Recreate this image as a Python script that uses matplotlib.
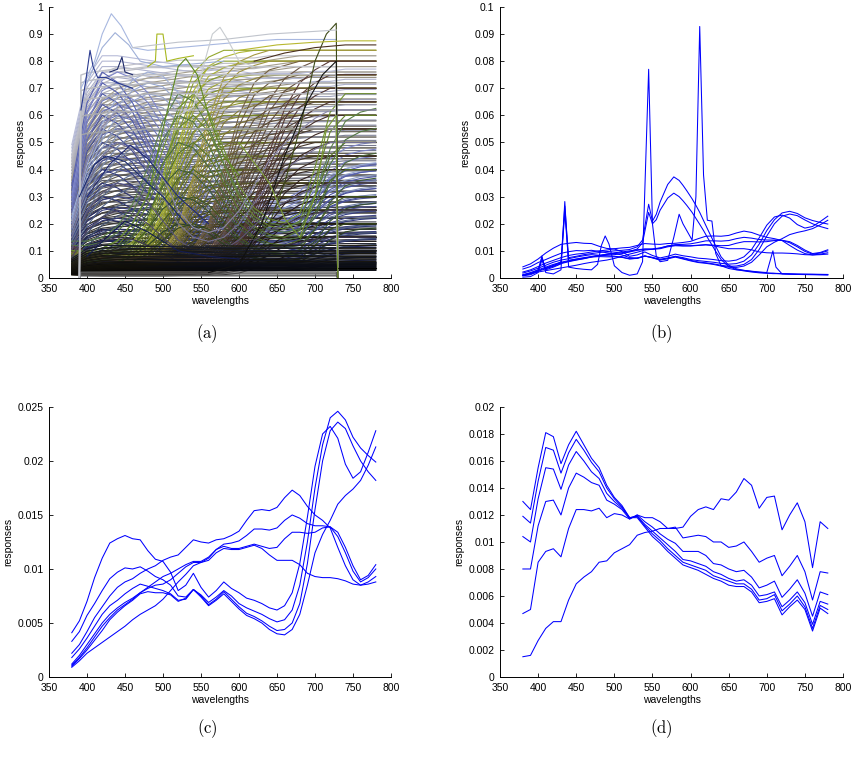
import numpy as np
import matplotlib
matplotlib.use('Agg')
import matplotlib.pyplot as plt
from matplotlib.colors import to_rgb

plt.rcParams['font.family'] = ['Liberation Sans', 'DejaVu Sans']
plt.rcParams['mathtext.fontset'] = 'cm'

# ---------------- (a) spectral reflectances of a large set of samples ----------------
wa = [380, 400, 420, 440, 460, 480, 500, 520, 540, 560, 580, 600, 620, 640, 660, 680, 700, 720, 740, 760, 780]
# measured range 390-730 for the second set (zero outside)
wb = [390, 392, 400, 420, 440, 460, 480, 500, 520, 540, 560, 580, 600, 620, 640, 660, 680, 700, 720, 728, 730]

neutral_shapes = [
    [0.55, 0.82, 0.92, 0.95, 0.96, 0.97, 0.97, 0.98, 0.98, 0.98, 0.99, 0.99, 0.99, 1.0, 1.0, 1.0, 1.0, 1.0, 1.0, 1.0, 1.0],
    [0.45, 0.70, 0.80, 0.85, 0.88, 0.90, 0.91, 0.92, 0.93, 0.94, 0.95, 0.96, 0.97, 0.98, 0.99, 1.0, 1.0, 1.0, 1.0, 1.0, 1.0],
    [0.60, 0.90, 1.0, 1.0, 0.99, 0.98, 0.97, 0.96, 0.95, 0.94, 0.93, 0.93, 0.92, 0.92, 0.92, 0.92, 0.93, 0.93, 0.94, 0.94, 0.94],
]
# dark samples (drawn last, they fill the bottom band)
dark_levels = [0.03, 0.035, 0.04, 0.045, 0.05, 0.055, 0.06, 0.07, 0.08, 0.09, 0.10, 0.11, 0.12]
neutral_levels = [0.135, 0.15, 0.165, 0.18, 0.20, 0.22, 0.24, 0.26, 0.28, 0.30, 0.32, 0.34, 0.36, 0.38, 0.40, 0.42,
                  0.44, 0.46, 0.48, 0.50, 0.52, 0.54, 0.56, 0.58, 0.60, 0.62, 0.64, 0.66, 0.68, 0.70, 0.72, 0.74,
                  0.76, 0.78, 0.80, 0.82]
neutral_ends = [('#050505', '#c0c0c8'), ('#0a0806', '#a8a290'), ('#06080e', '#b8bcd8')]
dark_ends = [('#000000', '#1a1a18'), ('#050402', '#222014'), ('#020308', '#181c2c')]

blue_shapes = [
    [0.40, 0.80, 0.96, 1.0, 0.97, 0.90, 0.78, 0.64, 0.52, 0.44, 0.40, 0.38, 0.37, 0.37, 0.38, 0.42, 0.50, 0.58, 0.63, 0.65, 0.66],
    [0.45, 0.85, 1.0, 0.95, 0.85, 0.70, 0.55, 0.42, 0.34, 0.30, 0.28, 0.27, 0.27, 0.27, 0.28, 0.32, 0.40, 0.48, 0.52, 0.54, 0.55],
    [0.30, 0.55, 0.75, 0.88, 0.96, 1.0, 0.98, 0.90, 0.78, 0.64, 0.52, 0.45, 0.41, 0.39, 0.38, 0.40, 0.45, 0.50, 0.53, 0.55, 0.56],
]
blue_levels = [0.10, 0.14, 0.18, 0.22, 0.26, 0.30, 0.35, 0.40, 0.45, 0.50, 0.55, 0.60, 0.64, 0.68, 0.72, 0.76]
blue_ends = [('#0e1250', '#8088cc'), ('#0a0e40', '#5862b4'), ('#10203c', '#a0b0d8')]

yellow_shapes = [
    [0.10, 0.08, 0.08, 0.09, 0.11, 0.16, 0.30, 0.58, 0.82, 0.93, 0.97, 0.99, 1.0, 1.0, 1.0, 1.0, 1.0, 1.0, 1.0, 1.0, 1.0],
    [0.12, 0.10, 0.10, 0.12, 0.16, 0.25, 0.45, 0.72, 0.90, 0.97, 1.0, 1.0, 1.0, 1.0, 1.0, 1.0, 1.0, 1.0, 1.0, 1.0, 1.0],
    [0.08, 0.07, 0.07, 0.07, 0.08, 0.09, 0.12, 0.22, 0.45, 0.70, 0.88, 0.95, 0.98, 1.0, 1.0, 1.0, 1.0, 1.0, 1.0, 1.0, 1.0],
]
yellow_levels = [0.15, 0.20, 0.25, 0.30, 0.35, 0.40, 0.45, 0.50, 0.55, 0.60, 0.65, 0.70, 0.75, 0.80, 0.84]
yellow_ends = [('#1a1c04', '#b0b83a'), ('#18200a', '#94a82e'), ('#1c1808', '#a49844')]

red_shapes = [
    [0.12, 0.09, 0.08, 0.08, 0.08, 0.08, 0.08, 0.09, 0.10, 0.13, 0.22, 0.42, 0.65, 0.82, 0.92, 0.97, 1.0, 1.0, 1.0, 1.0, 1.0],
    [0.12, 0.10, 0.09, 0.09, 0.09, 0.09, 0.09, 0.10, 0.14, 0.25, 0.50, 0.75, 0.90, 0.96, 0.98, 1.0, 1.0, 1.0, 1.0, 1.0, 1.0],
    [0.15, 0.12, 0.10, 0.10, 0.10, 0.10, 0.10, 0.10, 0.10, 0.10, 0.12, 0.18, 0.35, 0.58, 0.78, 0.90, 0.96, 1.0, 1.0, 1.0, 1.0],
]
red_levels = [0.10, 0.15, 0.20, 0.25, 0.30, 0.35, 0.40, 0.45, 0.50, 0.55, 0.60, 0.65, 0.70, 0.75, 0.80]
red_ends = [('#060403', '#6a5444'), ('#0a0805', '#746040'), ('#080404', '#5a3c38')]

green_shapes = [
    [0.15, 0.14, 0.16, 0.20, 0.30, 0.45, 0.70, 0.92, 1.0, 0.90, 0.70, 0.50, 0.38, 0.32, 0.30, 0.35, 0.60, 0.90, 1.0, 1.0, 1.0],
    [0.20, 0.20, 0.22, 0.28, 0.40, 0.60, 0.85, 1.0, 0.96, 0.82, 0.62, 0.46, 0.36, 0.30, 0.28, 0.30, 0.45, 0.70, 0.85, 0.90, 0.92],
]
green_levels = [0.20, 0.30, 0.40, 0.50, 0.60, 0.68]
green_ends = [('#1c2c10', '#6e9030'), ('#182818', '#5a8048')]

purple_shape = [0.30, 0.70, 0.90, 1.0, 0.95, 0.80, 0.60, 0.40, 0.30, 0.27, 0.30, 0.40, 0.55, 0.70, 0.80, 0.88, 0.95, 1.0, 1.0, 1.0, 1.0]
purple_levels = [0.15, 0.25, 0.35, 0.50, 0.62]

cut_shape = [0.0, 0.96, 0.97, 0.98, 0.99, 0.99, 1.0, 1.0, 1.0, 1.0, 1.0, 1.0, 1.0, 1.0, 1.0, 1.0, 1.0, 1.0, 1.0, 1.0, 0.0]
cut_levels = [0.008, 0.015, 0.022, 0.55, 0.62, 0.68, 0.72, 0.75, 0.78]

# individual samples that stand out
hl_x = [
    [392, 410, 420, 432, 445, 460, 480, 520, 560, 600, 650, 700, 728],
    [400, 420, 437, 455, 470, 500, 540, 580],
    [392, 398, 404, 408, 414, 425, 440, 460],
    [430, 440, 446, 450, 460],
    [480, 490, 492, 500, 505, 520, 540],
    [520, 540, 555, 565, 575, 585, 600, 620],
    [620, 640, 660, 680, 700, 715, 728, 730],
    [560, 600, 630, 660, 690, 710, 728, 730],
    [600, 650, 700, 740, 780],
    [460, 520, 580, 640, 700, 728],
    [480, 500, 520, 530, 545, 560, 580, 600],
    [620, 660, 700, 740, 780],
    [730, 780],
    [600, 640, 660, 680, 700, 715, 728, 730],
    [390, 410, 425, 450, 480, 500, 530],
    [400, 430, 457, 480, 520, 560],
    [400, 430, 450, 480, 520, 560, 600],
]
hl_y = [
    [0.70, 0.80, 0.90, 0.975, 0.93, 0.85, 0.84, 0.85, 0.86, 0.87, 0.88, 0.88, 0.88],
    [0.72, 0.85, 0.905, 0.86, 0.80, 0.78, 0.79, 0.80],
    [0.62, 0.72, 0.84, 0.78, 0.74, 0.74, 0.72, 0.70],
    [0.76, 0.77, 0.815, 0.76, 0.75],
    [0.78, 0.80, 0.90, 0.90, 0.80, 0.81, 0.82],
    [0.60, 0.63, 0.80, 0.90, 0.925, 0.88, 0.80, 0.78],
    [0.15, 0.20, 0.35, 0.55, 0.80, 0.90, 0.94, 0.0],
    [0.02, 0.05, 0.20, 0.45, 0.65, 0.75, 0.80, 0.0],
    [0.84, 0.86, 0.87, 0.875, 0.875],
    [0.85, 0.87, 0.88, 0.90, 0.91, 0.915],
    [0.30, 0.55, 0.78, 0.81, 0.75, 0.60, 0.45, 0.38],
    [0.80, 0.83, 0.85, 0.86, 0.86],
    [0.035, 0.035],
    [0.50, 0.35, 0.22, 0.15, 0.30, 0.55, 0.60, 0.0],
    [0.30, 0.42, 0.45, 0.43, 0.35, 0.30, 0.20],
    [0.30, 0.42, 0.49, 0.44, 0.30, 0.20],
    [0.08, 0.16, 0.21, 0.17, 0.10, 0.08, 0.07],
]
hl_colors = ['#a8b8e0', '#9fb0d8', '#2a3a90', '#1e2a6a', '#a8b820', '#c8ccd0', '#3d4a18', '#101010',
             '#b8b830', '#c0c4cc', '#5e8a20', '#4a3020', '#000000', '#7a9a30', '#1a2a70', '#202a78', '#141c50']

# ---------------- (b)/(c)/(d) ----------------
wl = np.arange(380, 781, 10)

# reflectance-weighted responses, shown in (c) and again in (b)
c_curves = [
    [.0041, .0052, .0070, .0092, .0110, .0124, .0128, .0131, .0128, .0127, .0117, .0109, .0107, .0097, .0080, .0085,
     .0096, .0083, .0074, .0080, .0088, .0082, .0078, .0073, .0071, .0068, .0064, .0062, .0066, .0078, .0105, .0148,
     .0195, .0225, .0232, .0221, .0197, .0184, .0190, .0208, .0228],
    [.0033, .0042, .0057, .0068, .0080, .0091, .0097, .0101, .0100, .0102, .0098, .0093, .0090, .0085, .0075, .0074,
     .0081, .0076, .0069, .0074, .0080, .0075, .0068, .0064, .0061, .0058, .0054, .0051, .0053, .0062, .0085, .0125,
     .0175, .0215, .0240, .0246, .0238, .0222, .0212, .0205, .0199],
    [.0018, .0026, .0036, .0047, .0058, .0066, .0071, .0077, .0082, .0086, .0084, .0082, .0080, .0077, .0071, .0072,
     .0081, .0075, .0067, .0072, .0079, .0072, .0065, .0059, .0056, .0052, .0047, .0043, .0044, .0050, .0068, .0105,
     .0155, .0200, .0228, .0236, .0230, .0214, .0200, .0190, .0182],
    [.0010, .0017, .0025, .0034, .0043, .0053, .0060, .0066, .0071, .0077, .0079, .0078, .0078, .0076, .0070, .0073,
     .0081, .0074, .0066, .0071, .0077, .0070, .0063, .0057, .0054, .0050, .0044, .0040, .0039, .0044, .0058, .0085,
     .0115, .0132, .0145, .0160, .0168, .0174, .0182, .0196, .0213],
    [.0022, .0030, .0042, .0055, .0065, .0075, .0083, .0088, .0091, .0096, .0100, .0103, .0108, .0111, .0113, .0120,
     .0127, .0125, .0124, .0127, .0128, .0131, .0135, .0145, .0154, .0155, .0154, .0157, .0166, .0173, .0168, .0158,
     .0150, .0145, .0138, .0120, .0103, .0090, .0085, .0088, .0093],
    [.0012, .0020, .0030, .0040, .0050, .0058, .0064, .0069, .0073, .0078, .0083, .0088, .0093, .0096, .0100, .0104,
     .0107, .0107, .0111, .0118, .0123, .0124, .0126, .0131, .0137, .0137, .0136, .0138, .0145, .0150, .0147, .0142,
     .0140, .0140, .0139, .0130, .0115, .0098, .0088, .0092, .0100],
    [.0011, .0018, .0027, .0037, .0047, .0055, .0062, .0067, .0072, .0078, .0082, .0085, .0086, .0090, .0096, .0102,
     .0106, .0106, .0110, .0118, .0121, .0119, .0119, .0121, .0123, .0121, .0119, .0120, .0128, .0134, .0134, .0133,
     .0134, .0138, .0139, .0134, .0120, .0103, .0090, .0094, .0104],
    [.0009, .0015, .0022, .0027, .0032, .0037, .0042, .0047, .0053, .0058, .0062, .0066, .0072, .0080, .0088, .0095,
     .0103, .0106, .0108, .0115, .0119, .0118, .0118, .0120, .0122, .0119, .0113, .0108, .0108, .0108, .0104, .0096,
     .0093, .0092, .0092, .0091, .0089, .0086, .0085, .0086, .0088],
]

# fluorescent-type illuminants added in (b)
wf = [380, 390, 400, 405, 410, 420, 430, 435, 440, 450, 460, 470, 478, 483, 488, 493, 500, 510, 520, 530, 537,
      545, 550, 555, 560, 570, 578, 585, 590, 595, 602, 607, 612, 617, 622, 628, 633, 640, 650, 660, 670, 680,
      690, 700, 704, 708, 712, 720, 740, 760, 780]
f_curves = [
    [.0003, .0005, .0020, .0081, .0020, .0015, .0030, .0282, .0040, .0035, .0032, .0030, .0050, .0120, .0155, .0125,
     .0045, .0020, .0010, .0015, .0060, .0770, .0200, .0080, .0060, .0065, .0150, .0235, .0200, .0175, .0140, .0300,
     .0928, .0380, .0213, .0210, .0090, .0045, .0035, .0030, .0028, .0025, .0022, .0020, .0060, .0100, .0040, .0015,
     .0013, .0013, .0012],
    [.0010, .0016, .0030, .0075, .0035, .0045, .0060, .0265, .0075, .0080, .0086, .0090, .0093, .0095, .0097, .0098,
     .0100, .0102, .0105, .0115, .0140, .0272, .0210, .0235, .0280, .0345, .0373, .0360, .0342, .0322, .0292, .0268,
     .0242, .0212, .0182, .0147, .0117, .0078, .0047, .0034, .0028, .0024, .0021, .0019, .0018, .0018, .0017, .0016,
     .0015, .0014, .0013],
    [.0008, .0012, .0025, .0065, .0030, .0040, .0052, .0240, .0065, .0070, .0075, .0079, .0082, .0084, .0086, .0088,
     .0090, .0093, .0097, .0107, .0130, .0242, .0200, .0215, .0250, .0295, .0313, .0300, .0285, .0268, .0242, .0220,
     .0198, .0175, .0150, .0122, .0098, .0068, .0042, .0031, .0026, .0022, .0019, .0017, .0017, .0016, .0016, .0015,
     .0013, .0012, .0011],
]

# daylight-type illuminants in (d)
d_curves = [
    [.0130, .0124, .0155, .0181, .0178, .0158, .0172, .0182, .0172, .0162, .0155, .0142, .0133, .0127, .0118, .0118,
     .0111, .0104, .0099, .0093, .0088, .0083, .0081, .0079, .0076, .0073, .0071, .0068, .0067, .0067, .0063, .0055,
     .0056, .0058, .0046, .0052, .0057, .0050, .0034, .0051, .0047],
    [.0119, .0114, .0145, .0170, .0168, .0151, .0166, .0176, .0168, .0159, .0152, .0140, .0132, .0126, .0118, .0119,
     .0112, .0106, .0101, .0095, .0090, .0085, .0083, .0081, .0079, .0075, .0073, .0071, .0069, .0069, .0065, .0057,
     .0058, .0061, .0049, .0054, .0060, .0052, .0036, .0053, .0050],
    [.0104, .0100, .0132, .0155, .0154, .0139, .0157, .0167, .0160, .0152, .0147, .0136, .0130, .0125, .0118, .0119,
     .0113, .0108, .0103, .0098, .0093, .0087, .0086, .0084, .0082, .0078, .0076, .0073, .0071, .0072, .0068, .0060,
     .0061, .0063, .0052, .0057, .0063, .0055, .0039, .0056, .0054],
    [.0080, .0080, .0112, .0130, .0131, .0120, .0140, .0151, .0148, .0144, .0142, .0131, .0128, .0124, .0117, .0120,
     .0115, .0111, .0106, .0102, .0099, .0093, .0093, .0093, .0090, .0084, .0083, .0080, .0078, .0079, .0074, .0066,
     .0068, .0071, .0059, .0065, .0072, .0062, .0045, .0063, .0061],
    [.0047, .0050, .0085, .0093, .0095, .0089, .0110, .0124, .0124, .0123, .0125, .0118, .0121, .0120, .0117, .0120,
     .0118, .0118, .0115, .0110, .0111, .0103, .0104, .0105, .0104, .0100, .0100, .0096, .0097, .0100, .0093, .0085,
     .0088, .0090, .0075, .0082, .0090, .0078, .0057, .0078, .0077],
    [.0015, .0016, .0027, .0036, .0041, .0041, .0057, .0069, .0074, .0078, .0085, .0086, .0092, .0095, .0098, .0105,
     .0107, .0108, .0110, .0110, .0110, .0111, .0119, .0124, .0126, .0124, .0132, .0131, .0137, .0147, .0142, .0125,
     .0133, .0134, .0109, .0120, .0129, .0115, .0081, .0115, .0110],
]


def ramp(c0, c1, t):
    a, b = np.array(to_rgb(c0)), np.array(to_rgb(c1))
    return tuple(np.clip(a + (b - a) * t, 0, 1))


def draw_family(ax, shapes, levels, ends, lw=0.8):
    top = max(levels)
    for lv in levels:
        for shape, (c0, c1) in zip(shapes, ends):
            ax.plot(wa, np.array(shape) * lv, color=ramp(c0, c1, lv / top), lw=lw)


def style_axes(ax, ymax, ystep):
    ax.set_xlim(350, 800)
    ax.set_ylim(0, ymax)
    ax.set_xticks(range(350, 801, 50))
    ticks = np.round(np.arange(0, ymax + ystep / 2, ystep), 4)
    ax.set_yticks(ticks)
    ax.set_yticklabels([f'{t:g}' for t in ticks])
    for s in ['top', 'right']:
        ax.spines[s].set_visible(False)
    for s in ['left', 'bottom']:
        ax.spines[s].set_linewidth(0.7)
    ax.tick_params(direction='in', length=3, width=0.6, labelsize=7.5, pad=4)
    ax.set_xlabel('wavelengths', fontsize=7.5, labelpad=2)
    ax.set_ylabel('responses', fontsize=7.5, labelpad=3)


fig = plt.figure(figsize=(8.55, 7.57), dpi=100)
ax_a = fig.add_axes([0.0573, 0.6328, 0.400, 0.358])
ax_b = fig.add_axes([0.5848, 0.6328, 0.4012, 0.358])
ax_c = fig.add_axes([0.0573, 0.1057, 0.400, 0.3567])
ax_d = fig.add_axes([0.5848, 0.1057, 0.4012, 0.3567])

# (a)
draw_family(ax_a, neutral_shapes, neutral_levels, neutral_ends)
draw_family(ax_a, blue_shapes, blue_levels, blue_ends)
draw_family(ax_a, yellow_shapes, yellow_levels, yellow_ends)
draw_family(ax_a, red_shapes, red_levels, red_ends)
draw_family(ax_a, green_shapes, green_levels, green_ends)
draw_family(ax_a, [purple_shape], purple_levels, [('#201830', '#8a86a8')])
draw_family(ax_a, neutral_shapes, dark_levels, dark_ends)
for lv in cut_levels:
    ax_a.plot(wb, np.array(cut_shape) * lv, color=ramp('#585858', '#c0c2c8', min(lv / 0.78, 1)), lw=1.0)
for x, y, c in zip(hl_x, hl_y, hl_colors):
    ax_a.plot(x, y, color=c, lw=0.8)
style_axes(ax_a, 1.0, 0.1)

# (b)
for y in c_curves:
    ax_b.plot(wl, y, color='#0000ff', lw=0.75)
for y in f_curves:
    ax_b.plot(wf, y, color='#0000ff', lw=0.75)
style_axes(ax_b, 0.1, 0.01)

# (c)
for y in c_curves:
    ax_c.plot(wl, y, color='#0000ff', lw=0.75)
style_axes(ax_c, 0.025, 0.005)

# (d)
for y in d_curves:
    ax_d.plot(wl, y, color='#0000ff', lw=0.75)
style_axes(ax_d, 0.02, 0.002)

for lab, x, y in [('(a)', 207, 334), ('(b)', 661, 334), ('(c)', 207, 729), ('(d)', 661, 729)]:
    fig.text(x / 855, 1 - y / 757, r'$\mathrm{' + lab + '}$', fontsize=12, ha='center', va='center')

fig.savefig('out.png', dpi=100)
